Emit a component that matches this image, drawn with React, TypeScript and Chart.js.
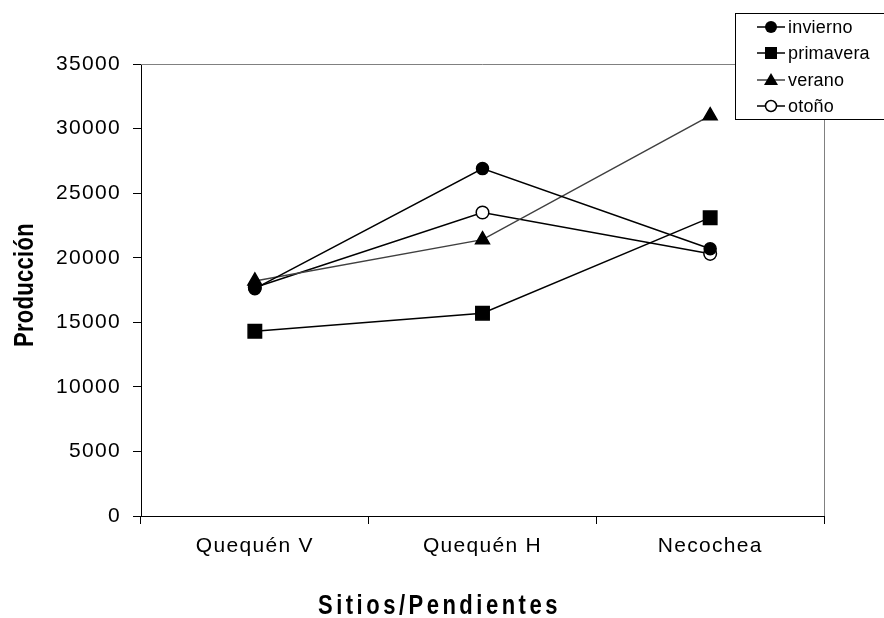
import React, { useEffect, useRef } from "react";
import { Chart, registerables } from "chart.js";

Chart.register(...registerables);

const categories = ["Quequén V", "Quequén H", "Necochea"];
const invierno = [17600, 26900, 20700];
const primavera = [14300, 15700, 23100];
const verano = [18200, 21400, 31000];
const otono = [17700, 23500, 20300];
const seriesNames = ["invierno", "primavera", "verano", "otoño"];
const yTicks = [0, 5000, 10000, 15000, 20000, 25000, 30000, 35000];

const FONT = "'Liberation Sans', Arial, sans-serif";

const setSpacing = (chart: any) => {
  (chart.ctx as any).letterSpacing = "1.3px";
};

const decorPlugin = {
  id: "decor",
  beforeUpdate: setSpacing,
  beforeLayout: setSpacing,
  beforeDraw: setSpacing,
  beforeDatasetsDraw(chart: any) {
    const { ctx, chartArea } = chart;
    ctx.save();
    ctx.strokeStyle = "#808080";
    ctx.lineWidth = 1;
    ctx.beginPath();
    ctx.moveTo(chartArea.left, chartArea.top + 0.5);
    ctx.lineTo(chartArea.right + 0.5, chartArea.top + 0.5);
    ctx.lineTo(chartArea.right + 0.5, chartArea.bottom);
    ctx.stroke();
    ctx.restore();
  },
  afterDraw(chart: any) {
    const { ctx } = chart;
    ctx.save();
    // axis titles
    ctx.fillStyle = "#000";
    ctx.font = `bold 22px ${FONT}`;
    ctx.textAlign = "left";
    ctx.textBaseline = "alphabetic";
    (ctx as any).letterSpacing = "0.3px";
    ctx.save();
    ctx.translate(33, 347);
    ctx.rotate(-Math.PI / 2);
    ctx.scale(1, 1.25);
    ctx.fillText("Producción", 0, 0);
    ctx.restore();
    (ctx as any).letterSpacing = "3.5px";
    ctx.save();
    ctx.translate(318, 614);
    ctx.scale(1, 1.25);
    ctx.fillText("Sitios/Pendientes", 0, 0);
    ctx.restore();

    // legend
    ctx.fillStyle = "#fff";
    ctx.fillRect(735.5, 13.5, 160, 106);
    ctx.strokeStyle = "#000";
    ctx.lineWidth = 1;
    ctx.strokeRect(735.5, 13.5, 160, 106);
    const ys = [27, 53, 80, 106];
    (ctx as any).letterSpacing = "0.2px";
    ctx.font = `18px ${FONT}`;
    ctx.textBaseline = "middle";
    seriesNames.forEach((name, i) => {
      const y = ys[i];
      ctx.strokeStyle = i === 2 ? "#404040" : "#000";
      ctx.lineWidth = 1.5;
      ctx.beginPath();
      ctx.moveTo(757, y);
      ctx.lineTo(785, y);
      ctx.stroke();
      const cx = 771;
      ctx.fillStyle = "#000";
      ctx.strokeStyle = "#000";
      ctx.beginPath();
      if (i === 0) {
        ctx.arc(cx, y, 6, 0, Math.PI * 2);
        ctx.fill();
      } else if (i === 1) {
        ctx.rect(cx - 6, y - 6, 12, 12);
        ctx.fill();
      } else if (i === 2) {
        ctx.moveTo(cx, y - 7);
        ctx.lineTo(cx + 7, y + 5);
        ctx.lineTo(cx - 7, y + 5);
        ctx.closePath();
        ctx.fill();
      } else {
        ctx.arc(cx, y, 5.5, 0, Math.PI * 2);
        ctx.fillStyle = "#fff";
        ctx.fill();
        ctx.lineWidth = 1.5;
        ctx.stroke();
      }
      ctx.fillStyle = "#000";
      ctx.fillText(name, 788, y + 1);
    });
    ctx.restore();
  },
};

export default function App() {
  const ref = useRef<HTMLCanvasElement | null>(null);
  useEffect(() => {
    if (!ref.current) return;
    const mk = (
      label: string,
      data: number[],
      style: any,
      radius: number,
      color: string,
      fill: string
    ) => ({
      label,
      data,
      borderColor: color,
      borderWidth: 1.5,
      pointStyle: style,
      pointRadius: radius,
      pointHoverRadius: radius,
      pointBackgroundColor: fill,
      pointBorderColor: "#000",
      pointBorderWidth: 1.5,
      tension: 0,
      fill: false,
    });
    const chart = new Chart(ref.current, {
      type: "line",
      data: {
        labels: categories,
        datasets: [
          mk("invierno", invierno, "circle", 6, "#000", "#000"),
          mk("primavera", primavera, "rect", 9.5, "#000", "#000"),
          mk("verano", verano, "triangle", 8, "#404040", "#000"),
          mk("otoño", otono, "circle", 6.3, "#000", "#fff"),
        ],
      },
      options: {
        animation: false,
        responsive: false,
        devicePixelRatio: 1,
        layout: { padding: { left: 0, top: 64, right: 60, bottom: 0 } },
        plugins: {
          legend: { display: false },
          tooltip: { enabled: false },
          title: { display: false },
        },
        scales: {
          x: {
            type: "category",
            offset: true,
            grid: {
              offset: true,
              drawOnChartArea: false,
              drawTicks: true,
              tickLength: 8,
              color: "#000",
            },
            border: { color: "#000", width: 1 },
            ticks: {
              color: "#000",
              font: { family: FONT, size: 21 },
              padding: 10,
              maxRotation: 0,
              autoSkip: false,
            },
            afterFit: (scale: any) => {
              scale.height = 102;
            },
          },
          y: {
            min: 0,
            max: 35000,
            afterBuildTicks: (scale: any) => {
              scale.ticks = yTicks.map((v) => ({ value: v }));
            },
            grid: {
              drawOnChartArea: false,
              drawTicks: true,
              tickLength: 8,
              color: "#000",
            },
            border: { color: "#000", width: 1 },
            ticks: {
              color: "#000",
              font: { family: FONT, size: 21 },
              padding: 12,
              callback: (v: any) => String(v),
            },
            afterFit: (scale: any) => {
              scale.width = 141;
            },
          },
        },
      },
      plugins: [decorPlugin],
    });
    return () => chart.destroy();
  }, []);
  return (
    <div
      style={{
        position: "fixed",
        left: 0,
        top: 0,
        width: 884,
        height: 618,
        background: "#fff",
      }}
    >
      <canvas ref={ref} width={884} height={618} />
    </div>
  );
}
